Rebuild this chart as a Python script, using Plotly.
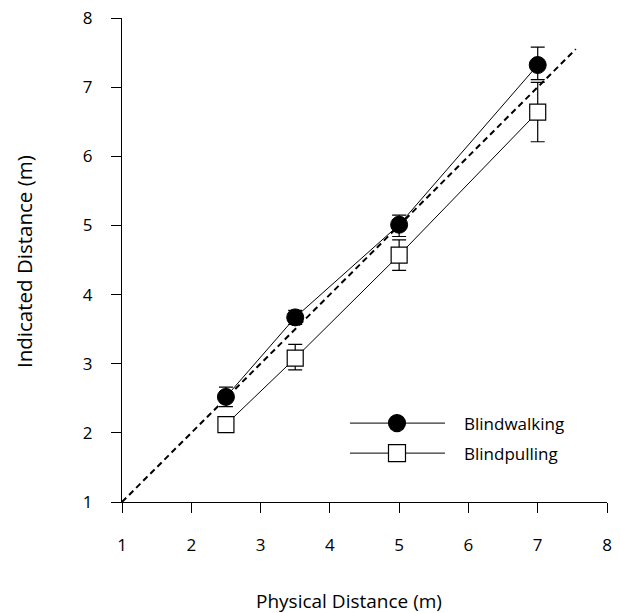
import plotly.graph_objects as go

physical = [2.5, 3.5, 5.0, 7.0]
walk_mean = [2.52, 3.67, 5.01, 7.32]
walk_err_up = [0.14, 0.10, 0.14, 0.26]
walk_err_down = [0.14, 0.10, 0.17, 0.21]
pull_mean = [2.12, 3.08, 4.57, 6.64]
pull_err_up = [0.0, 0.20, 0.22, 0.43]
pull_err_down = [0.0, 0.17, 0.22, 0.43]
identity = [1.0, 7.55]
ticks = [1, 2, 3, 4, 5, 6, 7, 8]

FONT = "Open Sans"

fig = go.Figure()
fig.add_trace(go.Scatter(x=identity, y=identity, mode="lines",
                         line=dict(color="black", width=2, dash="6px,4px"),
                         showlegend=False, hoverinfo="skip"))
fig.add_trace(go.Scatter(
    x=physical, y=pull_mean, mode="lines+markers", name="Blindpulling",
    line=dict(color="black", width=1),
    marker=dict(symbol="square", size=16, color="white", line=dict(color="black", width=1.2)),
    error_y=dict(type="data", array=pull_err_up, arrayminus=pull_err_down, symmetric=False,
                 color="black", thickness=1.2, width=7),
    showlegend=False))
fig.add_trace(go.Scatter(
    x=physical, y=walk_mean, mode="lines+markers", name="Blindwalking",
    line=dict(color="black", width=1),
    marker=dict(symbol="circle", size=17, color="black", line=dict(color="black", width=1)),
    error_y=dict(type="data", array=walk_err_up, arrayminus=walk_err_down, symmetric=False,
                 color="black", thickness=1.2, width=7),
    showlegend=False))

# custom legend
shapes = []
annotations = []
legend_items = [("Blindwalking", "circle", "black", 0.163), ("Blindpulling", "rect", "white", 0.101)]
for label, kind, fill, yp in legend_items:
    shapes.append(dict(type="line", xref="paper", yref="paper", x0=0.470, x1=0.666, y0=yp, y1=yp,
                       line=dict(color="black", width=1)))
    shapes.append(dict(type=kind, xref="paper", yref="paper", xsizemode="pixel", ysizemode="pixel",
                       xanchor=0.567, yanchor=yp, x0=-8.5, x1=8.5, y0=-8.5, y1=8.5,
                       fillcolor=fill, line=dict(color="black", width=1.2)))
    annotations.append(dict(text=label, xref="paper", yref="paper", x=0.700, y=yp,
                            xanchor="left", yanchor="middle", showarrow=False,
                            font=dict(family=FONT, size=17, color="black")))

annotations.append(dict(text="Physical Distance (m)", xref="paper", yref="paper", x=0.469, y=-0.204,
                        xanchor="center", yanchor="middle", showarrow=False,
                        font=dict(family=FONT, size=19, color="black")))
annotations.append(dict(text="Indicated Distance (m)", xref="paper", yref="paper", x=-0.202, y=0.496,
                        xanchor="center", yanchor="middle", showarrow=False, textangle=-90,
                        font=dict(family=FONT, size=20.5, color="black")))

axis_common = dict(range=[1, 8], tickvals=ticks, showgrid=False, zeroline=False,
                   showline=True, linecolor="black", linewidth=1.2, automargin=False,
                   ticks="outside", ticklen=10, tickwidth=1.2, tickcolor="black",
                   ticklabeloverflow="allow",
                   tickfont=dict(family=FONT, size=17, color="black"))

fig.update_layout(
    width=620, height=613, autosize=False,
    margin=dict(l=122, r=13, t=18, b=111),
    plot_bgcolor="white", paper_bgcolor="white",
    xaxis=dict(**axis_common, ticklabelstandoff=17),
    yaxis=dict(**axis_common, ticklabelstandoff=15),
    shapes=shapes, annotations=annotations,
)

fig.write_html("out.html", config={"displayModeBar": False},
               post_script="document.body.style.margin='0';")
